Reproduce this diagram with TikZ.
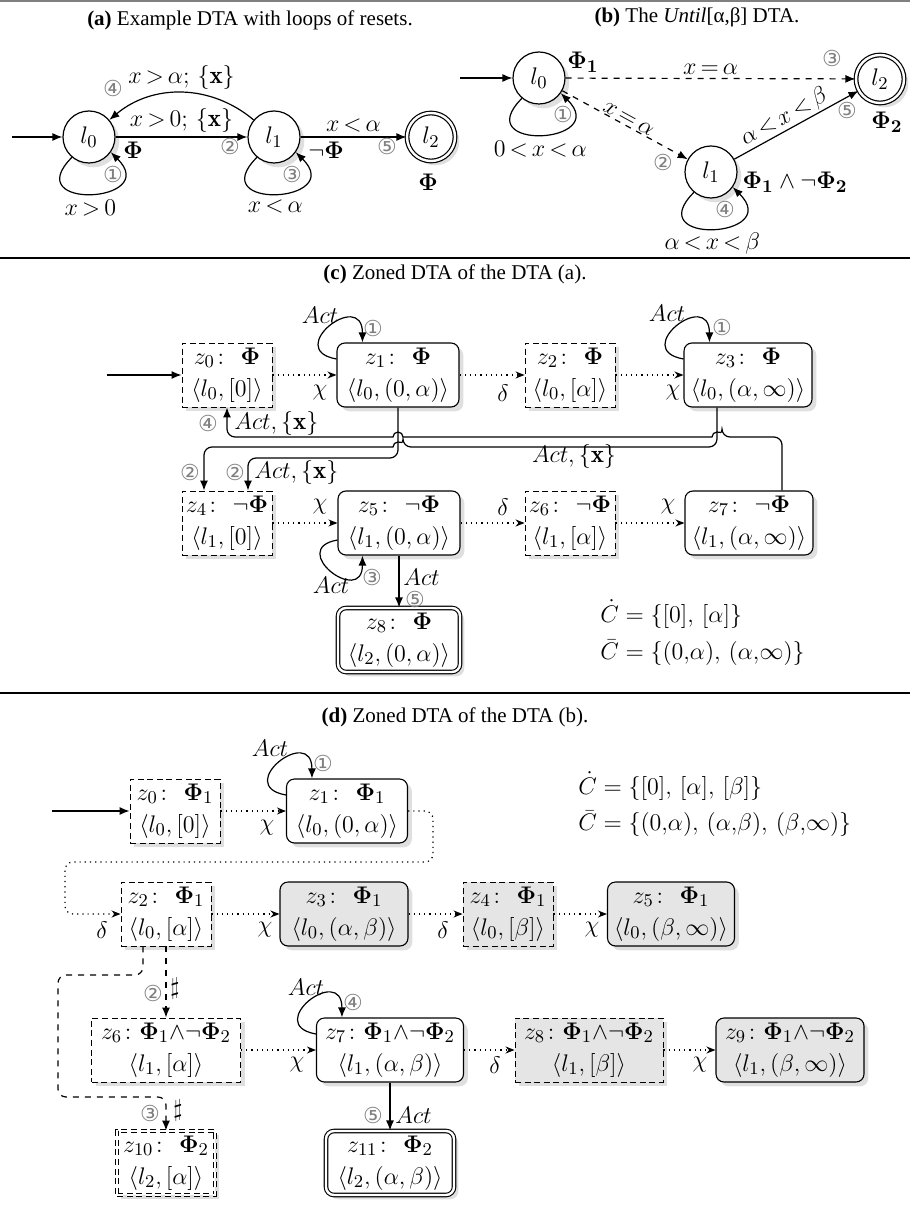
\documentclass[tikz,border=0pt]{standalone}
\usepackage{amsmath,amssymb}
\usepackage{fontspec}
\usepackage{xcolor}
\usepackage{tikz}
\usetikzlibrary{arrows.meta, positioning, shadows, calc}

\newfontfamily\capfont{Liberation Serif}
\newfontfamily\numfont{DejaVu Sans}
\newcommand{\zfont}{\fontsize{13}{16}\selectfont}
\newcommand{\lfont}{\fontsize{12.5}{14}\selectfont}
\newcommand{\cnum}[1]{{\numfont\fontsize{11}{11}\selectfont\color{black!50}#1}}

\begin{document}
\begin{tikzpicture}[x=0.5pt, y=-0.5pt,
      st/.style={circle, draw, line width=0.6pt, fill=white, minimum size=26pt,
                 inner sep=0pt, font=\zfont, drop shadow={opacity=0.25}},
      acc/.style={st, double, double distance=1.2pt, minimum size=24pt},
      zn/.style={draw, line width=0.55pt, fill=white, rounded corners=4pt,
                 align=center, font=\zfont, inner xsep=0.5pt, inner ysep=1pt,
                 minimum height=32pt, drop shadow={opacity=0.25}},
      zd/.style={zn, line width=0.45pt, dash pattern=on 3pt off 1.8pt, sharp corners},
      za/.style={zn, double, double distance=1.2pt},
      gr/.style={fill=black!10},
      arr/.style={-{Latex[length=5pt, width=4pt]}, line width=0.6pt},
      dotarr/.style={-{Stealth[length=4.5pt, width=3.5pt]}, dotted, line width=0.6pt},
      lab/.style={font=\lfont, inner sep=0.5pt},
      num/.style={inner sep=0pt},
      captxt/.style={font=\capfont\fontsize{10.5}{12}\selectfont}
    ]
      \useasboundingbox (0,0) rectangle (910,1219);

      % frame rules
      \draw[black!50, line width=0.6pt] (0,1) -- (910,1);
      \draw[line width=1.2pt] (0,258) -- (910,258);
      \draw[line width=1.2pt] (0,693) -- (910,693);

      % (a) example DTA
      \node[captxt] (capa) at (250,20) {\textbf{(a)} Example DTA with loops of resets.};
      \node[st]  (a0) at (89,137)  {$l_0$};
      \node[st]  (a1) at (274,137) {$l_1$};
      \node[acc] (a2) at (431,137) {$l_2$};
      \coordinate (ain) at (12,137);
      \draw[arr] (ain) -- (a0);
      \draw[arr] (a0) -- node[lab, above=1.5pt]{$x\,{>}\,0;\,\{\mathbf{x}\}$} (a1);
      \draw[arr] (a1.140) to[out=140, in=40] node[lab, above=1pt]{$x\,{>}\,\alpha;\,\{\mathbf{x}\}$} (a0.40);
      \draw[arr] (a1) -- node[lab, above=1.5pt]{$x\,{<}\,\alpha$} (a2);
      \draw[arr] (a0.230) .. controls ($(a0)+(-71,74)$) and ($(a0)+(73,66)$) .. node[lab, below=2pt]{$x\,{>}\,0$} (a0.-35);
      \draw[arr] (a1.230) .. controls ($(a1)+(-71,74)$) and ($(a1)+(73,66)$) .. node[lab, below=2pt]{$x\,{<}\,\alpha$} (a1.-35);
      \node[lab] (pa0) at (133,150) {$\boldsymbol{\Phi}$};
      \node[lab] (pa1) at (326,150) {$\neg\boldsymbol{\Phi}$};
      \node[lab] (pa2) at (428,182) {$\boldsymbol{\Phi}$};
      \node[num] (na1) at (113,174) {\cnum{①}};
      \node[num] (na2) at (230,146) {\cnum{②}};
      \node[num] (na3) at (292,174) {\cnum{③}};
      \node[num] (na4) at (113,88)  {\cnum{④}};
      \node[num] (na5) at (387,146) {\cnum{⑤}};

      % (b) the Until DTA
      \node[captxt] (capb) at (697,17) {\textbf{(b)} The \textit{Until}[α,β] DTA.};
      \node[st]  (b0) at (539,78)  {$l_0$};
      \node[st]  (b1) at (711,172) {$l_1$};
      \node[acc] (b2) at (880,79)  {$l_2$};
      \coordinate (bin) at (460,78);
      \draw[arr] (bin) -- (b0);
      \draw[arr, dashed] (b0) -- node[lab, above=1pt]{$x\,{=}\,\alpha$} (b2);
      \draw[arr, dashed] (b0) -- node[lab, above, sloped]{$x\,{=}\,\alpha$} (b1);
      \draw[arr] (b1) -- node[lab, above, sloped, pos=0.45]{$\alpha\,{<}\,x\,{<}\,\beta$} (b2);
      \draw[arr] (b0.230) .. controls ($(b0)+(-71,74)$) and ($(b0)+(73,66)$) .. node[lab, below=2pt]{$0\,{<}\,x\,{<}\,\alpha$} (b0.-35);
      \draw[arr] (b1.230) .. controls ($(b1)+(-71,74)$) and ($(b1)+(73,66)$) .. node[lab, below=1pt]{$\alpha\,{<}\,x\,{<}\,\beta$} (b1.-35);
      \node[lab] (pb0) at (583,62)  {$\boldsymbol{\Phi_1}$};
      \node[lab] (pb1) at (795,182) {$\boldsymbol{\Phi_1}\wedge\neg\boldsymbol{\Phi_2}$};
      \node[lab] (pb2) at (887,122) {$\boldsymbol{\Phi_2}$};
      \node[num] (nb1) at (563,114) {\cnum{①}};
      \node[num] (nb2) at (663,162) {\cnum{②}};
      \node[num] (nb3) at (832,58)  {\cnum{③}};
      \node[num] (nb4) at (725,209) {\cnum{④}};
      \node[num] (nb5) at (847,110) {\cnum{⑤}};

      % (c) zoned DTA of (a)
      \node[captxt] (capc) at (455,274) {\textbf{(c)} Zoned DTA of the DTA (a).};
      \node[zd, minimum width=45pt] (c0) at (227,375) {$z_0\colon\ \boldsymbol{\Phi}$\\$\langle l_0,[0]\rangle$};
      \node[zn, minimum width=61pt] (c1) at (398,375) {$z_1\colon\ \boldsymbol{\Phi}$\\$\langle l_0,(0,\alpha)\rangle$};
      \node[zd, minimum width=45pt] (c2) at (570,375) {$z_2\colon\ \boldsymbol{\Phi}$\\$\langle l_0,[\alpha]\rangle$};
      \node[zn, minimum width=64pt] (c3) at (748,375) {$z_3\colon\ \boldsymbol{\Phi}$\\$\langle l_0,(\alpha,\infty)\rangle$};
      \node[zd, minimum width=45pt] (c4) at (227,523) {$z_4\colon\ \neg\boldsymbol{\Phi}$\\$\langle l_1,[0]\rangle$};
      \node[zn, minimum width=61pt] (c5) at (399,523) {$z_5\colon\ \neg\boldsymbol{\Phi}$\\$\langle l_1,(0,\alpha)\rangle$};
      \node[zd, minimum width=45pt] (c6) at (570,523) {$z_6\colon\ \neg\boldsymbol{\Phi}$\\$\langle l_1,[\alpha]\rangle$};
      \node[zn, minimum width=64pt] (c7) at (749,523) {$z_7\colon\ \neg\boldsymbol{\Phi}$\\$\langle l_1,(\alpha,\infty)\rangle$};
      \node[za, minimum width=61pt] (c8) at (399,640) {$z_8\colon\ \boldsymbol{\Phi}$\\$\langle l_2,(0,\alpha)\rangle$};
      \coordinate (cin) at (107,375);
      \draw[arr] (cin) -- (c0);
      \draw[dotarr] (c0) -- (c1);
      \draw[dotarr] (c1) -- (c2);
      \draw[dotarr] (c2) -- (c3);
      \draw[dotarr] (c4) -- (c5);
      \draw[dotarr] (c5) -- (c6);
      \draw[dotarr] (c6) -- (c7);
      \draw[arr] ($(c1.west)+(0,-16)$) to[out=170, in=90, looseness=4.5] ($(c1.north west)+(26,0)$);
      \draw[arr] ($(c3.west)+(0,-16)$) to[out=170, in=90, looseness=4.5] ($(c3.north west)+(26,0)$);
      \draw[arr] ($(c5.west)+(0,17)$) to[out=190, in=-90, looseness=4.5] ($(c5.south west)+(25,0)$);
      \draw[arr] (c5.south) -- (c8.north);
      % reset edges with jumps
      \draw[arr] ($(c7.north)+(33,0)$) [rounded corners=4pt] -- (782,437) -- (722,437)
        [sharp corners] arc[start angle=0, end angle=180, radius=2.5pt] -- (403,437)
        arc[start angle=0, end angle=180, radius=2.5pt] -- (380,437)
        [rounded corners=4pt] -- (227,437) -- (c0.south);
      \draw[arr] ($(c3.south)+(-31,0)$) [rounded corners=4pt] -- (717,447) -- (403,447)
        [sharp corners] arc[start angle=0, end angle=180, radius=2.5pt] -- (380,447)
        [rounded corners=4pt] -- (204,447) -- ($(c4.north)+(-23,0)$);
      \draw[arr, rounded corners=4pt] (c1.south) |- (248,458) -- ($(c4.north)+(21,0)$);
      \node[lab] (xc01) at (320,393) {$\chi$};
      \node[lab] (dc12) at (503,393) {$\delta$};
      \node[lab] (xc23) at (673,393) {$\chi$};
      \node[lab] (xc45) at (320,507) {$\chi$};
      \node[lab] (dc56) at (503,507) {$\delta$};
      \node[lab] (xc67) at (668,507) {$\chi$};
      \node[lab] (ac1) at (320,315) {$Act$};
      \node[lab] (ac3) at (667,313) {$Act$};
      \node[lab] (ac5) at (331,585) {$Act$};
      \node[lab, anchor=west] (ac58) at (402,577) {$Act$};
      \node[lab, anchor=west] (ac70) at (233,423) {$Act, \{\mathbf{x}\}$};
      \node[lab, anchor=west] (ac14) at (253,472) {$Act, \{\mathbf{x}\}$};
      \node[lab] (ac34) at (574,456) {$Act, \{\mathbf{x}\}$};
      \node[num] (nc1a) at (373,328) {\cnum{①}};
      \node[num] (nc1b) at (722,327) {\cnum{①}};
      \node[num] (nc2a) at (190,472) {\cnum{②}};
      \node[num] (nc2b) at (235,472) {\cnum{②}};
      \node[num] (nc3) at (372,577) {\cnum{③}};
      \node[num] (nc4) at (208,423) {\cnum{④}};
      \node[num] (nc5) at (415,599) {\cnum{⑤}};
      \node[font=\zfont, anchor=west, inner sep=0pt] (cdot) at (600,614) {$\dot{C} = \{[0],\,[\alpha]\}$};
      \node[font=\zfont, anchor=west, inner sep=0pt] (cbar) at (600,653) {$\bar{C} = \{(0,\!\alpha),\,(\alpha,\!\infty)\}$};

      % (d) zoned DTA of (b)
      \node[captxt] (capd) at (455,717) {\textbf{(d)} Zoned DTA of the DTA (b).};
      \node[zd, minimum width=45pt]       (d0) at (175,811) {$z_0\colon\ \boldsymbol{\Phi}_1$\\$\langle l_0,[0]\rangle$};
      \node[zn, minimum width=60.5pt]     (d1) at (347,811) {$z_1\colon\ \boldsymbol{\Phi}_1$\\$\langle l_0,(0,\alpha)\rangle$};
      \node[zd, minimum width=45pt]       (d2) at (166,914) {$z_2\colon\ \boldsymbol{\Phi}_1$\\$\langle l_0,[\alpha]\rangle$};
      \node[zn, gr, minimum width=64pt]   (d3) at (344,914) {$z_3\colon\ \boldsymbol{\Phi}_1$\\$\langle l_0,(\alpha,\beta)\rangle$};
      \node[zd, gr, minimum width=45pt]   (d4) at (508,914) {$z_4\colon\ \boldsymbol{\Phi}_1$\\$\langle l_0,[\beta]\rangle$};
      \node[zn, gr, minimum width=63.5pt] (d5) at (671,914) {$z_5\colon\ \boldsymbol{\Phi}_1$\\$\langle l_0,(\beta,\infty)\rangle$};
      \node[zd, minimum width=74.5pt]     (d6) at (166,1050) {$z_6\colon \boldsymbol{\Phi}_1{\wedge}\neg\boldsymbol{\Phi}_2$\\$\langle l_1,[\alpha]\rangle$};
      \node[zn, minimum width=73.5pt]     (d7) at (390,1050) {$z_7\colon \boldsymbol{\Phi}_1{\wedge}\neg\boldsymbol{\Phi}_2$\\$\langle l_1,(\alpha,\beta)\rangle$};
      \node[zd, gr, minimum width=74pt]   (d8) at (589,1050) {$z_8\colon \boldsymbol{\Phi}_1{\wedge}\neg\boldsymbol{\Phi}_2$\\$\langle l_1,[\beta]\rangle$};
      \node[zn, gr, minimum width=74pt]   (d9) at (790,1050) {$z_9\colon \boldsymbol{\Phi}_1{\wedge}\neg\boldsymbol{\Phi}_2$\\$\langle l_1,(\beta,\infty)\rangle$};
      \node[zd, double, double distance=1.2pt, minimum width=49pt] (d10) at (166,1163) {$z_{10}\colon\ \boldsymbol{\Phi}_2$\\$\langle l_2,[\alpha]\rangle$};
      \node[za, minimum width=64pt]       (d11) at (390,1163) {$z_{11}\colon\ \boldsymbol{\Phi}_2$\\$\langle l_2,(\alpha,\beta)\rangle$};
      \coordinate (din) at (52,811);
      \draw[arr] (din) -- (d0);
      \draw[dotarr] (d0) -- (d1);
      \draw[dotarr, rounded corners=4pt] (d1.east) -| (433,862) -- (65,862) |- (d2.west);
      \draw[dotarr] (d2) -- (d3);
      \draw[dotarr] (d3) -- (d4);
      \draw[dotarr] (d4) -- (d5);
      \draw[dotarr] (d6) -- (d7);
      \draw[dotarr] (d7) -- (d8);
      \draw[dotarr] (d8) -- (d9);
      \draw[arr, dashed] (d2.south) -- (d6.north);
      \draw[arr, dashed, rounded corners=4pt] ($(d2.south)+(-23,0)$) |- (58,975) |- (166,1097) -- (d10.north);
      \draw[arr] (d7.south) -- (d11.north);
      \draw[arr] ($(d1.west)+(0,-16)$) to[out=170, in=90, looseness=4.5] ($(d1.north west)+(26,0)$);
      \draw[arr] ($(d7.west)+(0,-16)$) to[out=170, in=90, looseness=4.5] ($(d7.north west)+(26,0)$);
      \node[lab] (xd01) at (267,828)  {$\chi$};
      \node[lab] (dd12) at (102,930)  {$\delta$};
      \node[lab] (xd23) at (265,930)  {$\chi$};
      \node[lab] (dd34) at (443,930)  {$\delta$};
      \node[lab] (xd45) at (592,930)  {$\chi$};
      \node[lab] (xd67) at (297,1065) {$\chi$};
      \node[lab] (dd78) at (495,1065) {$\delta$};
      \node[lab] (xd89) at (700,1065) {$\chi$};
      \node[lab] (ad1) at (270,748)  {$Act$};
      \node[lab] (ad7) at (306,987)  {$Act$};
      \node[lab, anchor=west] (ad711) at (394,1115) {$Act$};
      \node[lab] (sd26) at (175,988)  {$\sharp$};
      \node[lab] (sd210) at (178,1110) {$\sharp$};
      \node[num] (nd1) at (323,763)  {\cnum{①}};
      \node[num] (nd2) at (153,993)  {\cnum{②}};
      \node[num] (nd3) at (150,1113) {\cnum{③}};
      \node[num] (nd4) at (353,1002) {\cnum{④}};
      \node[num] (nd5) at (373,1115) {\cnum{⑤}};
      \node[font=\zfont, anchor=west, inner sep=0pt] (ddot) at (578,786) {$\dot{C} = \{[0],\,[\alpha],\,[\beta]\}$};
      \node[font=\zfont, anchor=west, inner sep=0pt] (dbar) at (578,824) {$\bar{C} = \{(0,\!\alpha),\,(\alpha,\!\beta),\,(\beta,\!\infty)\}$};
    \end{tikzpicture}
\end{document}
